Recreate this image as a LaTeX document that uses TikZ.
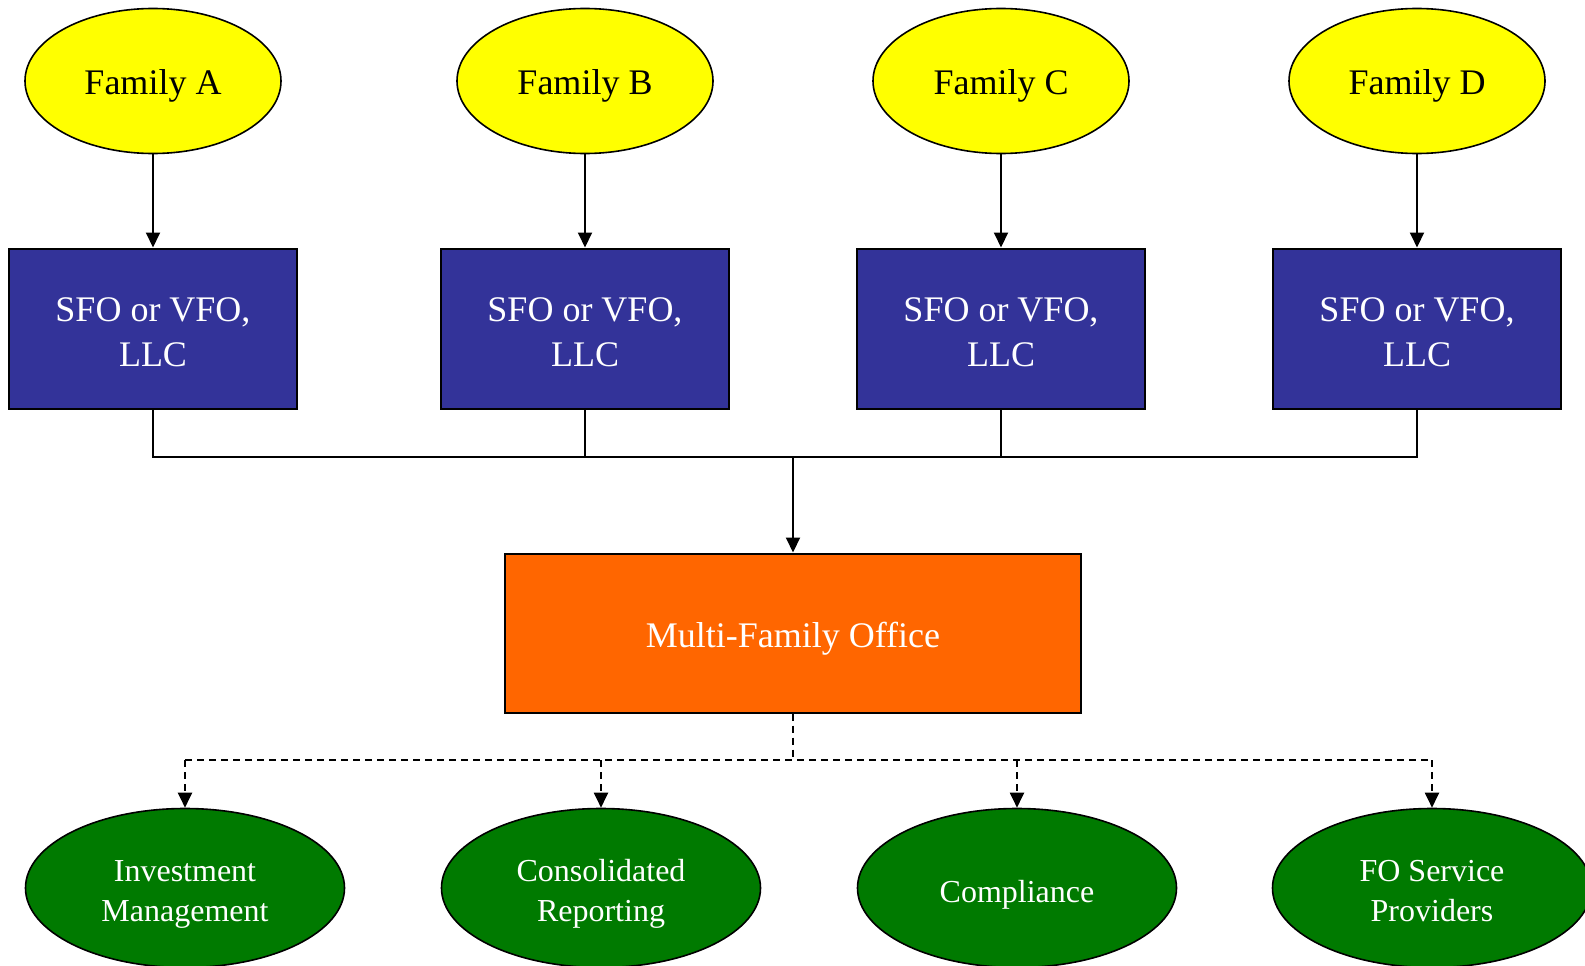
\documentclass[tikz,border=0pt]{standalone}
\usepackage{fontspec}
\setmainfont{Liberation Serif}
\usetikzlibrary{shapes.geometric,arrows.meta}
\definecolor{famyellow}{RGB}{255,255,0}
\definecolor{sfoblue}{RGB}{51,51,153}
\definecolor{mfoorange}{RGB}{255,102,0}
\definecolor{svcgreen}{RGB}{0,122,0}
% invisible rule that fixes the height and depth (8pt) of a label
\newcommand{\labelht}{44pt}
\newcommand{\labelrule}{\rule[-8pt]{0pt}{\labelht}}
\begin{document}
\begin{tikzpicture}[x=1pt,y=-1pt,
  label height/.store in=\labelht,
  label height=44pt,
  execute at begin node=\labelrule,
  family/.style={ellipse,draw=black,line width=1.6pt,fill=famyellow,
    minimum width=256pt,minimum height=145pt,inner sep=0pt,label height=44pt,
    font=\fontsize{36}{45}\selectfont,text=black},
  sfobox/.style={rectangle,draw=black,line width=2pt,fill=sfoblue,
    minimum width=288pt,minimum height=160pt,inner sep=0pt,align=center,
    label height=92pt,font=\fontsize{36}{45}\selectfont,text=white},
  mfobox/.style={rectangle,draw=black,line width=2pt,fill=mfoorange,
    minimum width=576pt,minimum height=159pt,inner sep=0pt,align=center,
    label height=44pt,font=\fontsize{36}{45}\selectfont,text=white},
  service/.style={ellipse,draw=black,line width=1.6pt,fill=svcgreen,
    minimum width=319pt,minimum height=159pt,inner sep=0pt,align=center,
    label height=83pt,font=\fontsize{32}{40}\selectfont,text=white},
  link/.style={draw=black,line width=2pt},
  tip/.style={-{Triangle[length=15pt,width=14pt]}},
  dashlink/.style={draw=black,line width=2pt,dash pattern=on 7pt off 5pt}
]
\clip (0,0) rectangle (1585,966);
\fill[white] (0,0) rectangle (1585,966);

% families
\node[family] (fa) at (153,81)  {Family A};
\node[family] (fb) at (585,81)  {Family B};
\node[family] (fc) at (1001,81) {Family C};
\node[family] (fd) at (1417,81) {Family D};

% single / virtual family offices
\node[sfobox] (sa) at (153,328.5)  {SFO or VFO,\\LLC};
\node[sfobox] (sb) at (585,328.5)  {SFO or VFO,\\LLC};
\node[sfobox] (sc) at (1001,328.5) {SFO or VFO,\\LLC};
\node[sfobox] (sd) at (1417,328.5) {SFO or VFO,\\LLC};

% multi-family office
\node[mfobox] (mfo) at (793,633) {Multi-Family Office};

% services
\node[service] (ga) at (185,888)  {Investment\\Management};
\node[service] (gb) at (601,888)  {Consolidated\\Reporting};
\node[service,label height=44pt] (gc) at (1017,888) {Compliance};
\node[service] (gd) at (1432,888) {FO Service\\Providers};

% family to office
\foreach \f/\s in {fa/sa,fb/sb,fc/sc,fd/sd}
  \draw[link,tip] (\f.south) -- (\s.north);

% offices merge into the MFO
\coordinate (j) at (mfo.north |- 0,457);
\draw[link] (sa.south) |- (sd.south |- j) -- (sd.south);
\draw[link] (sb.south) -- (sb.south |- j);
\draw[link] (sc.south) -- (sc.south |- j);
\draw[link,tip] (j) -- (mfo.north);

% MFO to services
\coordinate (k) at (mfo.south |- 0,760);
\draw[dashlink] (mfo.south) -- (k);
\draw[dashlink] (ga.north |- k) -- (gd.north |- k);
\foreach \g in {ga,gb,gc,gd}
  \draw[dashlink,tip] (\g.north |- k) -- (\g.north);
\end{tikzpicture}
\end{document}
